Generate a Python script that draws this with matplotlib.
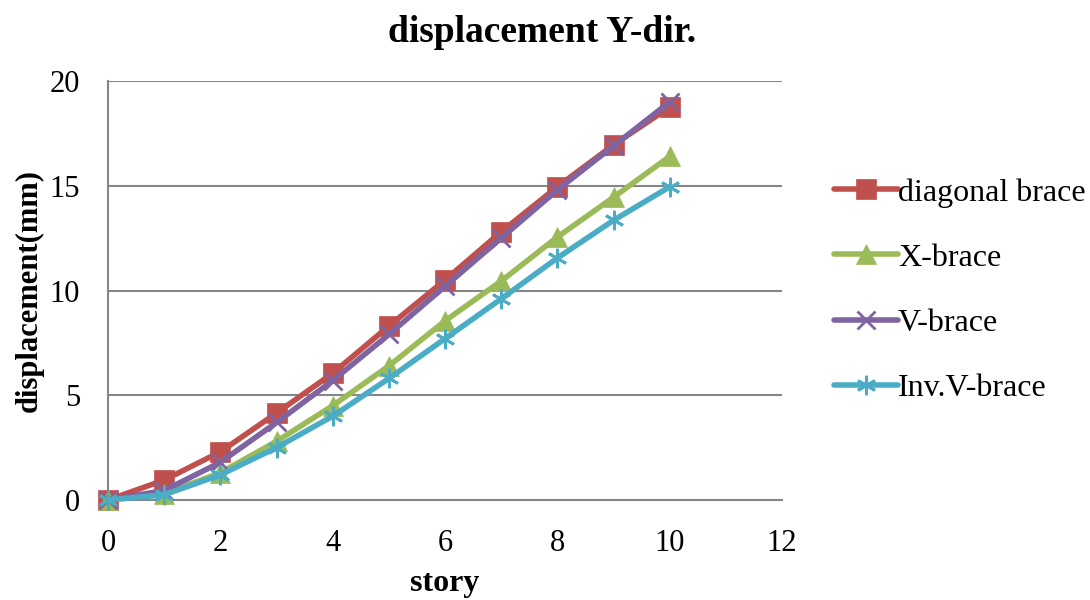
import matplotlib
matplotlib.use("Agg")
import matplotlib.pyplot as plt

# Story numbers and lateral displacement (mm) for each bracing system
story = [0, 1, 2, 3, 4, 5, 6, 7, 8, 9, 10]
diagonal_brace = [0, 0.95, 2.3, 4.15, 6.05, 8.3, 10.5, 12.8, 14.95, 16.95, 18.75]
x_brace = [0, 0.3, 1.3, 2.8, 4.5, 6.4, 8.55, 10.45, 12.55, 14.45, 16.4]
v_brace = [0, 0.45, 1.8, 3.7, 5.7, 7.9, 10.2, 12.5, 14.8, 16.9, 19.0]
inv_v_brace = [0, 0.25, 1.2, 2.5, 4.0, 5.8, 7.7, 9.6, 11.55, 13.35, 14.95]

labels = ["diagonal brace", "X-brace", "V-brace", "Inv.V-brace"]
colors = ["#C0504D", "#9BBB59", "#8064A2", "#4BACC6"]
markers = ["s", "^", "x", (6, 2, 0)]
msizes = [14, 14, 13, 14]
xticks = [0, 2, 4, 6, 8, 10, 12]
yticks = [0, 5, 10, 15, 20]

plt.rcParams["font.family"] = ["Liberation Serif", "DejaVu Serif"]

fig = plt.figure(figsize=(10.9, 6.0), dpi=100)
ax = fig.add_axes([108 / 1090, 1 - 500 / 600, (782 - 108) / 1090, (500 - 81) / 600])

series = [diagonal_brace, x_brace, v_brace, inv_v_brace]
for vals, lab, c, m, ms in zip(series, labels, colors, markers, msizes):
    ax.plot(story, vals, color=c, lw=4.0, marker=m, markersize=ms,
            markeredgewidth=2 if m in ("x", (6, 2, 0)) else 0.5,
            markeredgecolor=c, markerfacecolor=c, label=lab,
            solid_capstyle="round", clip_on=False, zorder=3)

ax.set_xlim(0, 12)
ax.set_ylim(0, 20)
ax.set_xticks(xticks)
ax.set_yticks(yticks)
ax.tick_params(length=0, labelsize=22, colors="black")
ax.tick_params(axis="y", pad=20)
ax.tick_params(axis="x", pad=21)
ax.yaxis.grid(True, color="#868686", lw=1.5)
ax.set_axisbelow(True)
for side in ("top", "right"):
    ax.spines[side].set_visible(False)
for side in ("left", "bottom"):
    ax.spines[side].set_color("#868686")
    ax.spines[side].set_linewidth(1.5)

ax.set_xlabel("story", fontsize=23, fontweight="bold", labelpad=8)
ax.set_ylabel("displacement(mm)", fontsize=22, fontweight="bold", labelpad=4)
fig.text(0.497, 1 - 32 / 600, "displacement Y-dir.", fontsize=27,
         fontweight="bold", ha="center", va="center")

fig.legend(loc="upper left", bbox_to_anchor=(834 / 1090, 1 - 178 / 600),
           frameon=False, fontsize=23, handlelength=2.0, handletextpad=0.0,
           labelspacing=1.12, borderaxespad=0, borderpad=0)

fig.savefig("out.png", dpi=100)
